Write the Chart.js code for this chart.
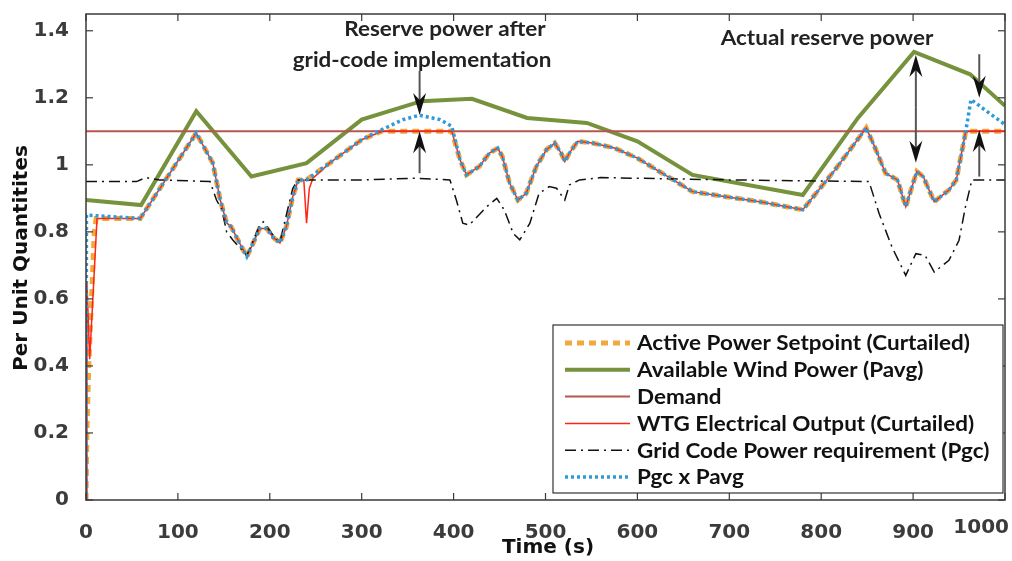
<!DOCTYPE html>
<html><head><meta charset="utf-8">
<script src="https://cdn.jsdelivr.net/npm/chart.js@4.4.1/dist/chart.umd.min.js"></script>
<style>html,body{margin:0;padding:0;background:#fff;}canvas{display:block;}</style>
</head><body>
<canvas id="c" width="1012" height="561"></canvas>
<script>
// ---- tick labels ----
const xTicks = [0,100,200,300,400,500,600,700,800,900,1000];
const yTicks = [0,0.2,0.4,0.6,0.8,1,1.2,1.4];

// ---- Active Power Setpoint (Curtailed) ----
const spT = [0,1,3,6,9,11,30,59,120,138,146,153,158,167,175,182,189,197,203,211,218,225,231,240,265,300,322,398,407,414,428,439,448,453,461,470,479,490,501,510,517,521,526,535,551,575,600,624,660,696,733,780,815,849,858,870,883,892,904,911,923,939,947,957,960,1000];
const spV = [0,0.2,0.4,0.6,0.8,0.84,0.84,0.84,1.095,1.005,0.896,0.827,0.815,0.767,0.726,0.767,0.81,0.81,0.785,0.767,0.815,0.905,0.955,0.955,1.005,1.075,1.1,1.1,1.015,0.97,0.995,1.035,1.05,1.025,0.945,0.895,0.915,0.995,1.045,1.065,1.035,1.01,1.035,1.07,1.065,1.05,1.02,0.98,0.92,0.905,0.89,0.866,0.985,1.11,1.055,0.975,0.955,0.875,0.98,0.965,0.89,0.925,0.955,1.095,1.1,1.1];

// ---- Available Wind Power (Pavg) ----
const avT = [0,60,120,180,240,300,365,420,480,545,600,660,780,840,901,962,1000];
const avV = [0.895,0.88,1.16,0.965,1.005,1.135,1.19,1.197,1.14,1.125,1.07,0.97,0.91,1.14,1.337,1.27,1.176];

// ---- Demand ----
const dmT = [0,1000];
const dmV = [1.1,1.1];

// ---- WTG Electrical Output (Curtailed) ----
const wtT = [0,1,4,12,30,59,120,138,146,153,158,167,175,182,189,197,203,211,218,225,231,237,240,243,247,265,300,322,398,407,414,428,439,448,453,461,470,479,490,501,510,517,521,526,535,551,575,600,624,660,696,733,780,815,849,858,870,883,892,904,911,923,939,947,957,960,1000];
const wtV = [0,0.65,0.42,0.84,0.84,0.84,1.095,1.005,0.896,0.827,0.815,0.767,0.726,0.767,0.81,0.81,0.785,0.767,0.815,0.905,0.955,0.955,0.826,0.93,0.96,1.005,1.075,1.1,1.1,1.015,0.97,0.995,1.035,1.05,1.025,0.945,0.895,0.915,0.995,1.045,1.065,1.035,1.01,1.035,1.07,1.065,1.05,1.02,0.98,0.92,0.905,0.89,0.866,0.985,1.11,1.055,0.975,0.955,0.875,0.98,0.965,0.89,0.925,0.955,1.095,1.1,1.1];

// ---- Grid Code Power requirement (Pgc) ----
const gcT = [0,55,65,80,135,142,148,153,160,175,189,193,205,211,225,231,300,360,396,403,410,417,436,447,455,465,472,483,493,504,512,521,526,537,560,700,852,863,877,892,903,913,923,939,950,957,964,1000];
const gcV = [0.95,0.95,0.962,0.955,0.95,0.895,0.866,0.80,0.775,0.73,0.82,0.83,0.785,0.77,0.93,0.955,0.955,0.96,0.955,0.895,0.826,0.82,0.875,0.9,0.866,0.795,0.776,0.826,0.915,0.935,0.93,0.895,0.94,0.955,0.962,0.955,0.95,0.855,0.755,0.67,0.735,0.73,0.68,0.715,0.775,0.875,0.955,0.955];

// ---- Pgc x Pavg ----
const pvT = [0,0.5,30,59,120,138,146,153,158,167,175,182,189,197,203,211,218,225,231,240,265,300,322,345,363,385,398,403,407,414,428,439,448,453,461,470,479,490,501,510,517,521,526,535,551,575,600,624,660,696,733,780,815,849,858,870,883,892,904,911,923,939,947,957,963,980,1000];
const pvV = [0,0.85,0.845,0.84,1.095,1.005,0.896,0.827,0.815,0.767,0.726,0.767,0.81,0.81,0.785,0.767,0.815,0.905,0.955,0.955,1.005,1.075,1.105,1.135,1.148,1.135,1.115,1.06,1.015,0.97,0.995,1.035,1.05,1.025,0.945,0.895,0.915,0.995,1.045,1.065,1.035,1.01,1.035,1.07,1.065,1.05,1.02,0.98,0.92,0.905,0.89,0.866,0.985,1.11,1.055,0.975,0.955,0.875,0.98,0.965,0.89,0.925,0.955,1.095,1.195,1.16,1.12];

// ---- annotations ----
const noteText = ['Reserve power after','grid-code implementation','Actual reserve power'];
const noteX = [445,422,827];
const noteY = [30,61,39];
const arrX    = [363,363,903,903,972,972];
const arrTail = [1.28,0.975,1.17,1.17,1.33,0.965];
const arrTip  = [1.149,1.1,1.328,1.006,1.2,1.104];

const mk = (t,v) => t.map((x,i)=>({x:x,y:v[i]}));

const overlay = {
  id:'overlay',
  afterDraw(chart){
    const {ctx, chartArea:a, scales:{x,y}} = chart;
    ctx.save();
    // box
    ctx.strokeStyle='#3a3a3a'; ctx.lineWidth=1.5;
    ctx.strokeRect(a.left,a.top,a.right-a.left,a.bottom-a.top);
    ctx.lineWidth=1.2;
    const seg=(x0,y0,x1,y1)=>{ctx.beginPath();ctx.moveTo(x0,y0);ctx.lineTo(x1,y1);ctx.stroke();};
    xTicks.forEach(v=>{const p=x.getPixelForValue(v); seg(p,a.bottom,p,a.bottom-7); seg(p,a.top,p,a.top+7);});
    yTicks.forEach(v=>{const p=y.getPixelForValue(v); seg(a.left,p,a.left+7,p); seg(a.right,p,a.right-7,p);});
    // 1000 label (right aligned as in reference)
    ctx.fillStyle='#3b3b3b';
    ctx.font='bold 20px "DejaVu Sans"';
    ctx.textAlign='right'; ctx.textBaseline='middle';
    ctx.fillText(String(xTicks[xTicks.length-1]), 1009, 528);
    // axis titles
    ctx.textAlign='center';
    ctx.fillStyle='#111';
    ctx.fillText('Time (s)', 548, 548);
    ctx.save(); ctx.translate(22,258); ctx.rotate(-Math.PI/2); ctx.fillText('Per Unit Quantitites',0,0); ctx.restore();

    // stretched humanist text (reference text is wider than Lato)
    ctx.font='bold 20px Lato';
    const k = 333 / ctx.measureText('Active Power Setpoint (Curtailed)').width;
    const txt=(t,tx,ty,align)=>{ctx.save();ctx.translate(tx,ty);ctx.scale(k,1);ctx.textAlign=align;ctx.fillText(t,0,0);ctx.restore();};

    // legend
    const L=553,T=325,R=1003,B=493;
    ctx.fillStyle='#fff'; ctx.fillRect(L,T,R-L,B-T);
    ctx.strokeStyle='#333'; ctx.lineWidth=1.2; ctx.strokeRect(L,T,R-L,B-T);
    ctx.textBaseline='middle';
    chart.data.datasets.forEach((ds,i)=>{
      const cy=T+18+i*26.8;
      ctx.save();
      ctx.strokeStyle=ds.borderColor; ctx.lineWidth=ds.borderWidth;
      ctx.setLineDash(ds.borderDash||[]);
      seg(565,cy,630,cy);
      ctx.restore();
      ctx.fillStyle='#111';
      txt(ds.label,637,cy+1,'left');
    });

    // annotation texts
    ctx.fillStyle='#222';
    noteText.forEach((t,i)=>txt(t,noteX[i],noteY[i],'center'));
    // arrows
    arrX.forEach((xv,i)=>{
      const px=x.getPixelForValue(xv), p0=y.getPixelForValue(arrTail[i]), p1=y.getPixelForValue(arrTip[i]);
      const dir = p1>p0 ? 1 : -1;
      ctx.strokeStyle='#555'; ctx.lineWidth=2;
      seg(px,p0,px,p1-dir*12);
      ctx.fillStyle='#111';
      ctx.beginPath();
      ctx.moveTo(px,p1);
      ctx.lineTo(px-6.5,p1-dir*22);
      ctx.lineTo(px,p1-dir*15);
      ctx.lineTo(px+6.5,p1-dir*22);
      ctx.closePath(); ctx.fill();
    });
    ctx.restore();
  }
};

new Chart(document.getElementById('c').getContext('2d'), {
  type:'scatter',
  data:{datasets:[
    {label:'Active Power Setpoint (Curtailed)', data:mk(spT,spV), showLine:true, borderColor:'#f2a93b', borderWidth:5, borderDash:[7,5], pointRadius:0, order:6},
    {label:'Available Wind Power (Pavg)', data:mk(avT,avV), showLine:true, borderColor:'#76923c', borderWidth:4, pointRadius:0, order:5},
    {label:'Demand', data:mk(dmT,dmV), showLine:true, borderColor:'#b9554f', borderWidth:2, pointRadius:0, order:4},
    {label:'WTG Electrical Output (Curtailed)', data:mk(wtT,wtV), showLine:true, borderColor:'#ff2415', borderWidth:1.5, pointRadius:0, order:3},
    {label:'Grid Code Power requirement (Pgc)', data:mk(gcT,gcV), showLine:true, borderColor:'#111', borderWidth:1.5, borderDash:[11,5,2,5], pointRadius:0, order:2},
    {label:'Pgc x Pavg', data:mk(pvT,pvV), showLine:true, borderColor:'#2f9ad8', borderWidth:3.5, borderDash:[3,3], pointRadius:0, order:1}
  ]},
  options:{
    responsive:false, animation:false, devicePixelRatio:1,
    layout:{padding:{left:0,top:14,right:7,bottom:0}},
    plugins:{legend:{display:false}, tooltip:{enabled:false}},
    scales:{
      x:{type:'linear', min:0, max:1000,
        afterBuildTicks:s=>{s.ticks=xTicks.map(v=>({value:v}));},
        afterFit:s=>{s.height=61; s.paddingLeft=0; s.paddingRight=0;},
        grid:{display:false}, border:{display:false},
        ticks:{padding:13, maxRotation:0, autoSkip:false, color:'#3b3b3b',
          font:{family:'DejaVu Sans', size:20, weight:'bold'},
          callback:v=> v===1000 ? '' : String(v)}},
      y:{type:'linear', min:0, max:1.45,
        afterBuildTicks:s=>{s.ticks=yTicks.map(v=>({value:v}));},
        afterFit:s=>{s.width=86; s.paddingTop=0; s.paddingBottom=0;},
        grid:{display:false}, border:{display:false},
        ticks:{padding:9, color:'#3b3b3b',
          font:{family:'DejaVu Sans', size:20, weight:'bold'},
          callback:v=> String(Math.round(v*10)/10)}}
    }
  },
  plugins:[overlay]
});
</script>
</body></html>
